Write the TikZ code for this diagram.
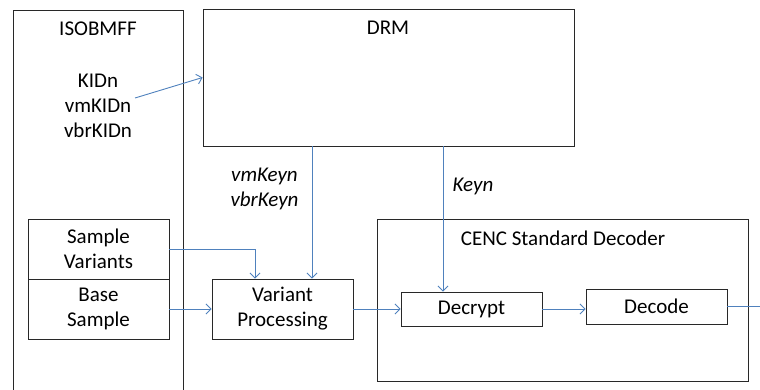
\documentclass[tikz,border=0pt]{standalone}
\usepackage{fontspec}
\setmainfont{Carlito}
\usetikzlibrary{arrows.meta,calc}
\definecolor{linkblue}{RGB}{79,129,189}
\definecolor{edge}{RGB}{40,40,40}
\begin{document}
\begin{tikzpicture}[x=1pt,y=-1pt,
  font=\fontsize{21}{25}\selectfont,
  box/.style={draw=edge, line width=0.9pt, inner sep=0pt, align=center},
  lbl/.style={inner sep=0pt, align=center},
  flow/.style={draw=linkblue, line width=0.9pt},
  flowtip/.style={flow, -{Straight Barb[length=5pt,width=10pt]}}]
\useasboundingbox (0,0) rectangle (760,389);
\clip (0,0) rectangle (760,389);

% outer blocks
\node[box, minimum width=170pt, minimum height=390pt] (iso) at (98,205) {};
\node[box, minimum width=371pt, minimum height=137pt] (drm) at (388.5,77.5) {};
\node[box, minimum width=371pt, minimum height=162pt] (cenc) at (562.5,300) {};

% titles
\node[lbl] (isot) at (98,29) {ISOBMFF};
\node[lbl] (drmt) at (388,28) {DRM};
\node[lbl] (cenct) at (563,238) {CENC Standard Decoder};

% key identifiers in the file
\node[lbl] (kids) at (98,106) {KIDn\\vmKIDn\\vbrKIDn};

% sample boxes
\node[box, minimum width=141pt, minimum height=60pt] (sv) at (98.5,249) {Sample\\Variants};
\node[box, minimum width=141pt, minimum height=60pt] (bs) at (98.5,309) {Base\\Sample};
\node[box, minimum width=141pt, minimum height=60pt] (vp) at (282.5,309) {Variant\\Processing};
\node[box, minimum width=141pt, minimum height=34pt] (dcr) at (471.5,309) {Decrypt};
\node[box, minimum width=141pt, minimum height=35pt] (dco) at (656.5,306.5) {Decode};

% key labels
\node[lbl, font=\fontsize{21}{25}\selectfont\itshape] (vmk) at (264.5,189) {vmKeyn\\vbrKeyn};
\node[lbl, font=\fontsize{21}{25}\selectfont\itshape] (kk) at (473,186) {Keyn};

% connector anchors
\coordinate (kidtail) at (135,98);
\coordinate (vmtap) at (312,146);
\coordinate (keytap) at (443,146);
\coordinate (svdrop) at (255,249);
\coordinate (out) at (765,306.5);

% connectors
\draw[flowtip] (kidtail) -- (drm.west);
\draw[flowtip] (vmtap) -- (vmtap |- vp.north);
\draw[flowtip] (keytap) -- (keytap |- dcr.north);
\draw[flowtip] (sv.east) -- (svdrop) -- (svdrop |- vp.north);
\draw[flowtip] (bs.east) -- (vp.west);
\draw[flowtip] (vp.east) -- (dcr.west);
\draw[flowtip] (dcr.east) -- (dcr.east -| dco.west);
\draw[flow] (dco.east) -- (out);
\end{tikzpicture}
\end{document}
